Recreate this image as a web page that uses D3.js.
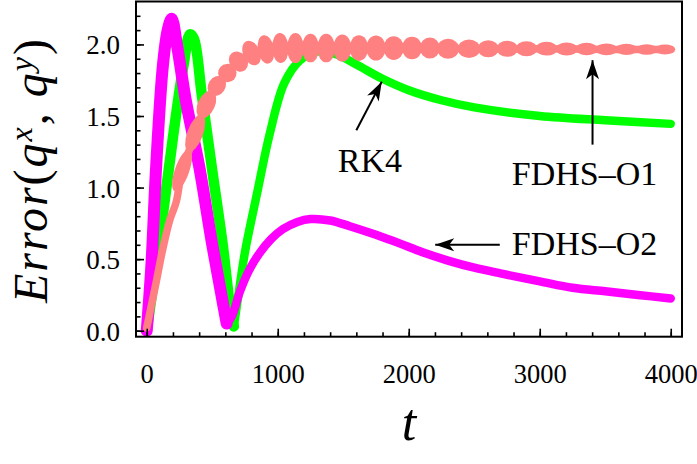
<!DOCTYPE html>
<html>
<head>
<meta charset="utf-8">
<script src="https://cdn.jsdelivr.net/npm/d3@7"></script>
<style>
  body { margin: 0; background: #fff; }
  text { font-family: "Liberation Serif", serif; fill: #000; }
</style>
</head>
<body>
<svg id="chart" width="697" height="464"></svg>
<script>
// ---- data ----
var xTicks = [0, 1000, 2000, 3000, 4000];
var yTicks = [0.0, 0.5, 1.0, 1.5, 2.0];

// RK4 (green)
var rkT = [0, 100, 200, 280, 330, 360, 420, 500, 580, 640, 665, 700, 750, 840, 940, 1050, 1170, 1300, 1450, 1600, 1800, 2000, 2250, 2500, 3000, 3500, 4000];
var rkV = [0.0, 0.65, 1.35, 1.85, 2.07, 2.04, 1.65, 1.12, 0.6, 0.14, 0.03, 0.25, 0.55, 0.95, 1.38, 1.73, 1.89, 1.95, 1.93, 1.86, 1.76, 1.68, 1.61, 1.56, 1.50, 1.47, 1.445];

// FDHS-O2 (magenta)
var o2T = [0, 35, 72, 123, 160, 190, 230, 300, 400, 500, 570, 610, 650, 710, 780, 860, 950, 1040, 1150, 1250, 1400, 1550, 1750, 1930, 2100, 2300, 2500, 2700, 3000, 3250, 3500, 3750, 4000];
var o2V = [0.0, 0.45, 1.15, 1.85, 2.1, 2.18, 2.0, 1.6, 1.15, 0.6, 0.25, 0.05, 0.1, 0.27, 0.42, 0.54, 0.64, 0.71, 0.76, 0.78, 0.77, 0.73, 0.67, 0.61, 0.55, 0.49, 0.44, 0.40, 0.345, 0.30, 0.275, 0.25, 0.225];

// FDHS-O1 (salmon) trend line
var o1T = [0, 70, 120, 175, 225, 265, 320, 380, 440, 520, 600, 700, 800, 900, 1000, 1500, 2000, 2500, 3000, 3500, 4000];
var o1V = [0.02, 0.33, 0.56, 0.77, 0.9, 1.1, 1.25, 1.40, 1.55, 1.69, 1.79, 1.88, 1.94, 1.965, 1.975, 1.975, 1.975, 1.97, 1.97, 1.965, 1.965];
// FDHS-O1 oscillation beads: centre time, centre value, half height
var beadT = [270, 370, 455, 535, 615, 700, 800, 910, 1020, 1135, 1250, 1370, 1493, 1620, 1750, 1885, 2025, 2161, 2300, 2460, 2607, 2752, 2899, 3052, 3205, 3358, 3510, 3663, 3816, 3956];
var beadV = [1.12, 1.38, 1.58, 1.71, 1.80, 1.88, 1.94, 1.965, 1.975, 1.975, 1.975, 1.975, 1.975, 1.975, 1.975, 1.975, 1.975, 1.975, 1.97, 1.97, 1.97, 1.97, 1.97, 1.97, 1.968, 1.968, 1.966, 1.966, 1.965, 1.965];
var beadH = [0.05, 0.055, 0.06, 0.06, 0.065, 0.075, 0.09, 0.1, 0.105, 0.105, 0.1, 0.1, 0.095, 0.09, 0.088, 0.083, 0.078, 0.074, 0.07, 0.065, 0.06, 0.056, 0.052, 0.048, 0.045, 0.043, 0.041, 0.039, 0.037, 0.035];

var svg = d3.select('#chart');
var L = 136, R = 682, T = 1.5, B = 336.7;

var x = d3.scaleLinear().domain([-82, 4086]).range([L, R]);
var y = d3.scaleLinear().domain([-0.042, 2.30]).range([B, T]);

function pts(ts, vs) { return ts.map(function(t, i) { return [t, vs[i]]; }); }

var line = d3.line()
    .x(function(d) { return x(d[0]); })
    .y(function(d) { return y(d[1]); })
    .curve(d3.curveCatmullRom.alpha(0.5));

var plot = svg.append('g');

// draw a series as a thick band; the early transient is wider than the tail
function band(ts, vs, color, split, wEarly, wLate) {
  var p = pts(ts, vs);
  plot.append('path')
      .attr('d', line(p.slice(split)))
      .attr('fill', 'none').attr('stroke', color)
      .attr('stroke-width', wLate)
      .attr('stroke-linejoin', 'round').attr('stroke-linecap', 'round');
  plot.append('path')
      .attr('d', line(p.slice(0, split + 1)))
      .attr('fill', 'none').attr('stroke', color)
      .attr('stroke-width', wEarly)
      .attr('stroke-linejoin', 'round').attr('stroke-linecap', 'round');
}

band(rkT, rkV, '#00ff00', 10, 10.5, 8.5);
band(o2T, o2V, '#ff00ff', 11, 12, 8.5);

// salmon band + beads
plot.append('path')
    .attr('d', line(pts(o1T, o1V)))
    .attr('fill', 'none')
    .attr('stroke', '#ff8080')
    .attr('stroke-width', 7.5)
    .attr('stroke-linejoin', 'round')
    .attr('stroke-linecap', 'round');

var beads = beadT.map(function(t, i) {
  var prev = i > 0 ? i - 1 : i, next = i < beadT.length - 1 ? i + 1 : i;
  var x0 = x(beadT[prev]), y0 = y(beadV[prev]), x1 = x(beadT[next]), y1 = y(beadV[next]);
  var dist = Math.hypot(x1 - x0, y1 - y0) / (next - prev);
  return {
    cx: x(t), cy: y(beadV[i]),
    rx: dist * 0.56,
    ry: y(0) - y(beadH[i]),
    a: Math.atan2(y1 - y0, x1 - x0) * 180 / Math.PI
  };
});

plot.append('g').selectAll('ellipse')
    .data(beads)
    .enter()
    .append('ellipse')
    .attr('cx', 0).attr('cy', 0)
    .attr('rx', function(d) { return d.rx; })
    .attr('ry', function(d) { return d.ry; })
    .attr('transform', function(d) { return 'translate(' + d.cx + ',' + d.cy + ') rotate(' + d.a + ')'; })
    .attr('fill', '#ff8080');

// axes (ticks inward)
var xMinor = d3.range(0, 4001, 200);
var yMinor = d3.range(0, 23).map(function(i) { return i / 10; });

function styleAxis(g) {
  g.select('.domain').remove();
  g.selectAll('line').attr('stroke', '#000').attr('stroke-width', 1.6);
}

svg.append('g').attr('transform', 'translate(0,' + B + ')')
    .call(d3.axisBottom(x).tickValues(xMinor).tickSize(-4.5).tickFormat(''))
    .call(styleAxis);
var gx = svg.append('g').attr('transform', 'translate(0,' + B + ')')
    .call(d3.axisBottom(x).tickValues(xTicks).tickSize(-8).tickFormat(d3.format('d')))
    .call(styleAxis);
gx.selectAll('text').attr('y', 46).attr('dy', 0)
    .style('font-size', '26.5px').style('font-family', '"Liberation Serif", serif');

svg.append('g').attr('transform', 'translate(' + L + ',0)')
    .call(d3.axisLeft(y).tickValues(yMinor).tickSize(-4.5).tickFormat(''))
    .call(styleAxis);
var gy = svg.append('g').attr('transform', 'translate(' + L + ',0)')
    .call(d3.axisLeft(y).tickValues(yTicks).tickSize(-8).tickFormat(d3.format('.1f')))
    .call(styleAxis);
gy.selectAll('text').attr('x', -16).attr('dy', '0.35em')
    .style('font-size', '27px').style('font-family', '"Liberation Serif", serif');

// frame
svg.append('rect')
    .attr('x', L).attr('y', T)
    .attr('width', R - L).attr('height', B - T)
    .attr('fill', 'none').attr('stroke', '#000').attr('stroke-width', 2);

// axis titles
var yl = svg.append('text')
    .attr('transform', 'translate(47,170) rotate(-90)')
    .attr('text-anchor', 'middle')
    .style('font-size', '48px')
    .style('letter-spacing', '2px');
yl.append('tspan').style('font-style', 'italic').text('Error');
yl.append('tspan').text('(');
yl.append('tspan').style('font-style', 'italic').text('q');
yl.append('tspan').style('font-style', 'italic').style('font-size', '32px').attr('dy', -15).text('x');
yl.append('tspan').attr('dy', 15).text(', ');
yl.append('tspan').style('font-style', 'italic').text('q');
yl.append('tspan').style('font-style', 'italic').style('font-size', '32px').attr('dy', -15).text('y');
yl.append('tspan').attr('dy', 15).text(')');

svg.append('text')
    .attr('x', (L + R) / 2).attr('y', 440)
    .attr('text-anchor', 'middle')
    .style('font-size', '52px').style('font-style', 'italic')
    .text('t');

// annotations
var defs = svg.append('defs');
defs.append('marker')
    .attr('id', 'head')
    .attr('markerUnits', 'userSpaceOnUse')
    .attr('viewBox', '-20 -8 22 16')
    .attr('refX', 0).attr('refY', 0)
    .attr('markerWidth', 22).attr('markerHeight', 16)
    .attr('orient', 'auto')
    .append('path')
    .attr('d', 'M0,0 L-19,-6.5 L-14,0 L-19,6.5 Z')
    .attr('fill', '#000');

var notes = [
  { label: 'RK4', tx: 1459, ty: 1.11, from: [1600, 1.40], to: [1794, 1.74] },
  { label: 'FDHS\u2013O1', tx: 2787, ty: 1.02, from: [3403, 1.30], to: [3403, 1.89] },
  { label: 'FDHS\u2013O2', tx: 2787, ty: 0.53, from: [2695, 0.60], to: [2202, 0.60] }
];

notes.forEach(function(n) {
  svg.append('line')
      .attr('x1', x(n.from[0])).attr('y1', y(n.from[1]))
      .attr('x2', x(n.to[0])).attr('y2', y(n.to[1]))
      .attr('stroke', '#000').attr('stroke-width', 2)
      .attr('marker-end', 'url(#head)');
  svg.append('text')
      .attr('x', x(n.tx)).attr('y', y(n.ty))
      .style('font-size', '34px')
      .text(n.label);
});
</script>
</body>
</html>
